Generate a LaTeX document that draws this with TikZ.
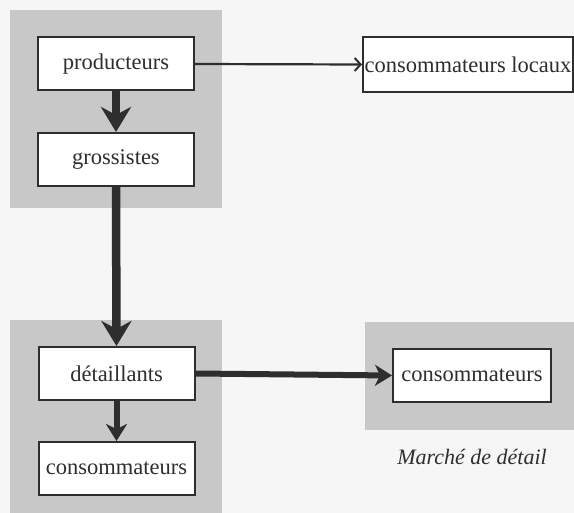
\documentclass[tikz,border=0pt]{standalone}
\usepackage{fontspec}
\setmainfont{Liberation Serif}
\usetikzlibrary{arrows.meta}
\definecolor{paper}{HTML}{F6F6F6}
\definecolor{zone}{HTML}{C8C8C8}
\definecolor{ink}{HTML}{2E2E2E}
\tikzset{
  box/.style={draw=ink, line width=2pt, fill=white, text=ink,
    minimum width=156pt, minimum height=53pt, inner sep=2pt,
    font=\fontsize{22.5}{26}\selectfont},
  zonefill/.style={fill=zone, draw=none},
  bigflow/.style={draw=ink, line width=8.5pt,
    -{Stealth[length=25pt, width=30pt, inset=8pt]}},
  midflow/.style={draw=ink, line width=6pt,
    -{Stealth[length=17pt, width=21pt, inset=5pt]}},
  thinflow/.style={draw=ink, line width=2.2pt,
    -{Straight Barb[length=6pt, width=13pt, line width=2pt]}},
}
\begin{document}
\begin{tikzpicture}[x=1pt, y=-1pt]
  % page and shaded market zones
  \fill[paper] (0,0) rectangle (574,513);
  \useasboundingbox (0,0) rectangle (574,513);
  \fill[zonefill] (10,10) rectangle (222,208);
  \fill[zonefill] (10,320) rectangle (222,513);
  \fill[zonefill] (365,322) rectangle (574,430);

  % boxes
  \node[box] (prod) at (116,64) {producteurs};
  \node[box] (gros) at (116,159.5) {grossistes};
  \node[box] (det) at (116.5,373.5) {détaillants};
  \node[box] (cons) at (116.5,468.5) {consommateurs};
  \node[box, minimum width=210pt, minimum height=55pt, inner sep=1pt] (loc) at (468,64.5) {consommateurs locaux};
  \node[box, minimum width=158pt] (consd) at (472,375.5) {consommateurs};

  \node[text=ink, font=\fontsize{22}{26}\selectfont\itshape] (lbl) at (472,457) {Marché de détail};

  % flows
  \draw[bigflow] (prod.south) -- (gros.north);
  \draw[bigflow] (gros.south) -- (det.north);
  \draw[midflow] (det.south) -- (cons.north);
  \draw[midflow] (det.east) -- (consd.west);
  \draw[thinflow] (prod.east) -- (loc.west);
\end{tikzpicture}
\end{document}
